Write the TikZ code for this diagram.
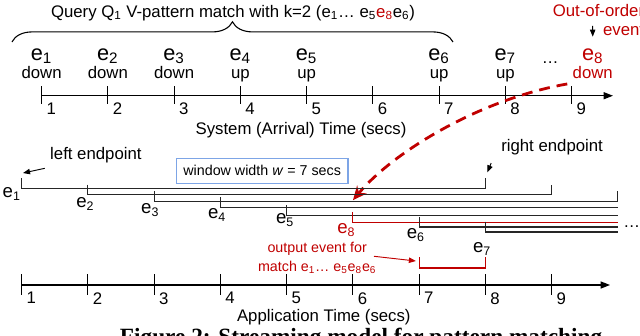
\documentclass[tikz,border=0pt]{standalone}
\usepackage{fontspec}
\setmainfont{Liberation Sans}
\newfontfamily\capfont{Liberation Serif}
\usetikzlibrary{arrows.meta,decorations.pathreplacing}
\definecolor{oored}{RGB}{192,0,0}
\definecolor{boxblue}{RGB}{125,165,230}
\newcommand{\evt}[1]{e\textsubscript{#1}}

\begin{document}
\begin{tikzpicture}[x=1.5cm, y=1.5cm,
    lbl/.style = {font=\fontsize{10.8}{12}\selectfont},
    small/.style = {font=\fontsize{9.2}{12.2}\selectfont},
    bigev/.style = {font=\fontsize{14}{14}\selectfont, anchor=base},
    winev/.style = {font=\fontsize{12}{12}\selectfont, anchor=north, inner sep=0pt},
    num/.style = {lbl, anchor=north west, inner sep=0pt, xshift=3pt, yshift=-4.5pt},
    axis/.style = {line width=0.8pt, -{Triangle[length=6pt,width=4.5pt]}},
    tick/.style = {line width=0.65pt},
    win/.style = {line width=0.7pt, black!85},
    ptr/.style = {line width=0.6pt, -{Triangle[length=4.5pt,width=3.5pt]}}]

    \useasboundingbox (0.6725,-0.755) rectangle (10.333,4.302);

    % query and system (arrival) time
    \node[lbl] (title) at (4.19,4.106) {Query Q\textsubscript{1} V-pattern match with k=2 (\evt{1}\ldots{} \evt{5}{\color{oored}\evt{8}}\evt{6})};
    \draw[line width=0.7pt, decorate, decoration={brace, amplitude=13pt, aspect=0.5}] (0.853,3.668) -- (7.51,3.668);

    \begin{scope}[shift={(0.3,2.857)}]
        \draw[axis] (1,0) -- (9.625,0);
        \foreach \t in {1,...,9} {
            \draw[tick] (\t,0.14) -- (\t,-0.13);
            \node[num] (st\t) at (\t,0) {\t};
        }
        \foreach \t/\i/\dir in {1/1/down,2/2/down,3/3/down,4/4/up,5/5/up,7/6/up,8/7/up} {
            \node[bigev] (se\i) at (\t,0.539) {\evt{\i}};
            \node[lbl, anchor=base] (sd\i) at (\t,0.263) {\dir};
        }
        \node[lbl, anchor=base] (sdots) at (8.677,0.48) {\ldots};
        \node[bigev, text=oored] (se8) at (9.32,0.539) {\evt{8}};
        \node[lbl, anchor=base, text=oored] (sd8) at (9.32,0.263) {down};
    \end{scope}
    \node[lbl] (systime) at (5.216,2.34) {System (Arrival) Time (secs)};

    \node[lbl, text=oored, align=right, anchor=east, inner sep=0pt] (ooo) at (10.4,4.0) {Out-of-order\\event};
    \coordinate (ooofrom) at (9.617,3.91);
    \draw[ptr] (ooofrom) -- ([yshift=4pt]se8.north);

    % late arrival of e8
    \coordinate (e8hit) at (6.0,1.28);
    \draw[oored, line width=1.8pt, dash pattern=on 7pt off 4.5pt, -{Stealth[length=9pt,width=8pt]}]
        (sd8.south west) .. controls (7.9,2.8) and (6.6,2.0) .. (e8hit);

    % windows
    \node[lbl] (lep) at (2.12,1.962) {left endpoint};
    \coordinate (leptip) at (1.02,1.69);
    \draw[ptr] (lep.south west) -- (leptip);
    \node[lbl] (rep) at (9.006,2.088) {right endpoint};
    \coordinate (reptip) at (8.028,1.701);
    \draw[ptr] ([xshift=-3pt,yshift=-2pt]rep.south west) -- (reptip);
    \node[small, draw=boxblue, line width=0.8pt, minimum width=3.885cm, minimum height=0.566cm] (wbox) at (4.63,1.724) {window width \textit{w} = 7 secs};

    \draw[win] (1,1.615) -- (1,1.46) -- (8,1.46) -- (8,1.615);
    \draw[win] (2,1.515) -- (2,1.36) -- (9,1.36) -- (9,1.515);
    \draw[win] (3,1.415) -- (3,1.26) -- (10,1.26) -- (10,1.415);
    \draw[win] (4,1.325) -- (4,1.17) -- (10,1.17);
    \draw[win] (5,1.205) -- (5,1.05) -- (10,1.05);
    \draw[win, oored] (6,1.105) -- (6,0.95) -- (10,0.95);
    \draw[win] (7,1.03) -- (7,0.875) -- (10,0.875);
    \draw[win] (8,0.955) -- (8,0.8) -- (10,0.8);

    \node[winev, anchor=north east] (we1) at (0.99,1.48) {\evt{1}};
    \node[winev] (we2) at (1.96,1.33) {\evt{2}};
    \node[winev] (we3) at (2.94,1.238) {\evt{3}};
    \node[winev] (we4) at (3.95,1.162) {\evt{4}};
    \node[winev] (we5) at (4.975,1.087) {\evt{5}};
    \node[winev, text=oored] (we8) at (5.9,0.936) {\evt{8}};
    \node[winev] (we6) at (6.95,0.86) {\evt{6}};
    \node[winev] (we7) at (7.95,0.649) {\evt{7}};
    \node[lbl] (wdots) at (10.21,0.875) {\ldots};

    % output of the match
    \node[small, text=oored, align=center] (outev) at (5.46,0.41) {output event for\\match \evt{1}\ldots{} \evt{5}\evt{8}\evt{6}};
    \coordinate (outtip) at (6.95,0.362);
    \draw[ptr, oored] ([xshift=-5pt,yshift=1pt]outev.east) -- (outtip);
    \draw[oored, line width=0.8pt] (7,0.42) -- (7,0.257) -- (8,0.257) -- (8,0.42);

    % application time
    \draw[axis] (1,0) -- (9.88,0);
    \foreach \t in {1,...,9} {
        \draw[tick] (\t,0.166) -- (\t,-0.151);
        \node[num] (at\t) at (\t,0) {\t};
    }
    \node[lbl] (apptime) at (5.56,-0.487) {Application Time (secs)};

    \node[anchor=base west, font=\capfont\bfseries\fontsize{15}{15}\selectfont] (cap) at (2.4,-0.9) {Figure 2: Streaming model for pattern matching};
\end{tikzpicture}
\end{document}
